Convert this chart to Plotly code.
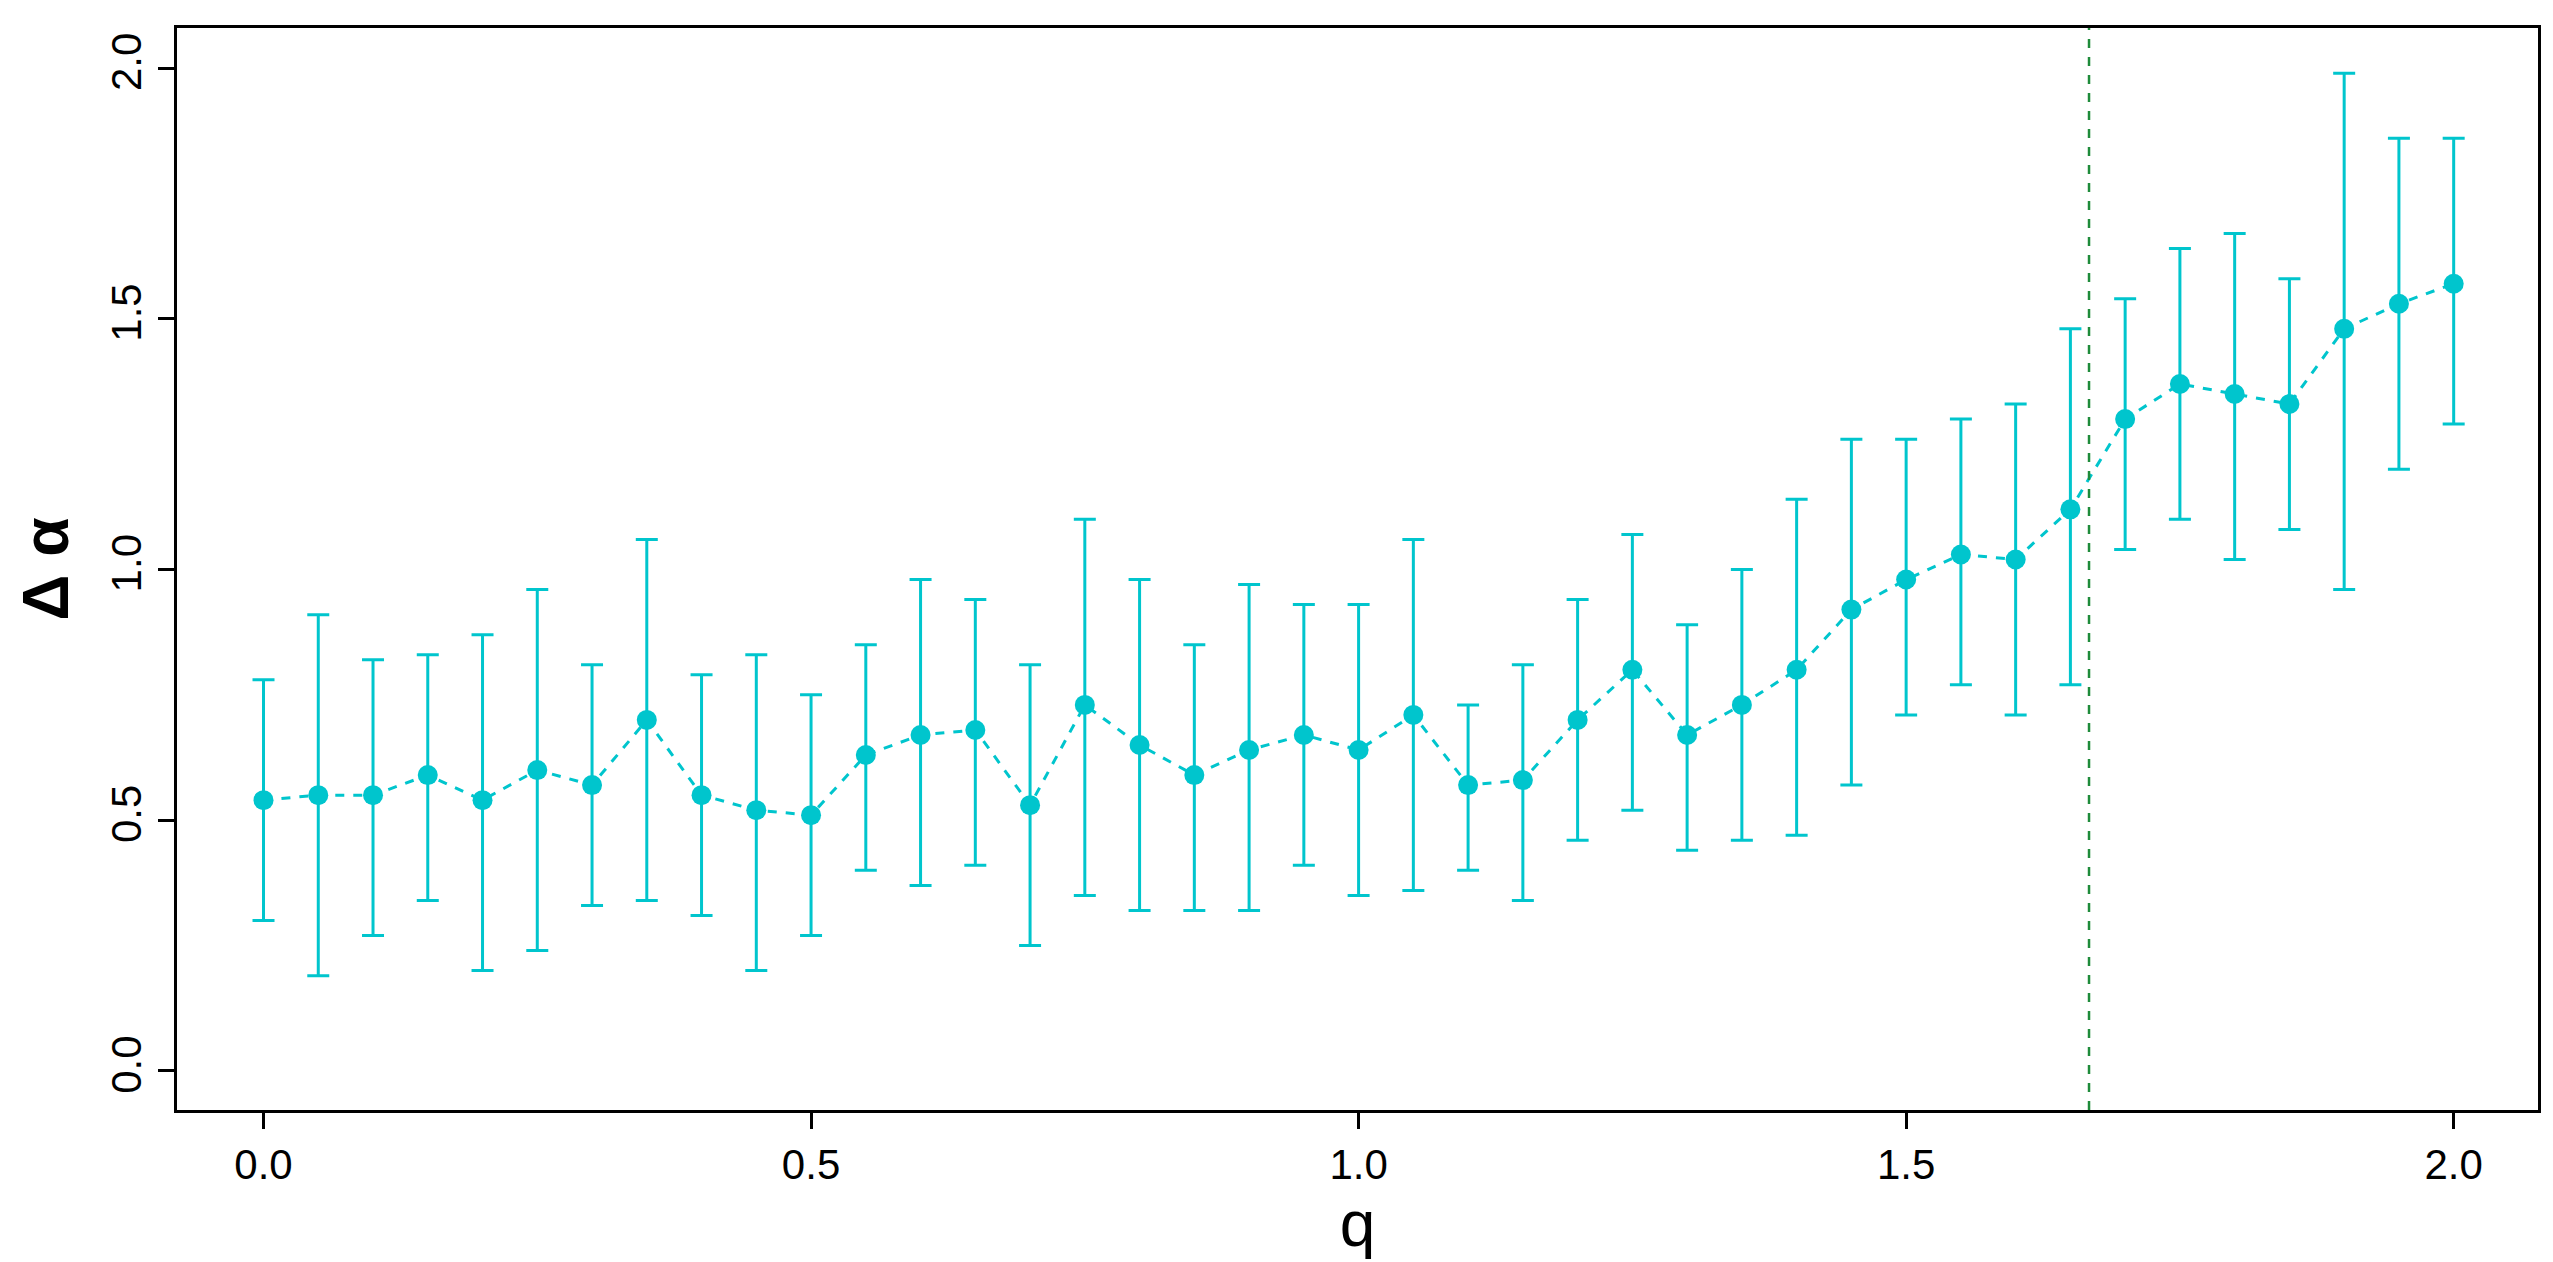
import plotly.graph_objects as go

q = [round(i*0.05, 2) for i in range(41)]
val = [0.54,0.55,0.55,0.59,0.54,0.60,0.57,0.70,0.55,0.52,0.51,0.63,0.67,0.68,0.53,0.73,0.65,0.59,0.64,0.67,
       0.64,0.71,0.57,0.58,0.70,0.80,0.67,0.73,0.80,0.92,0.98,1.03,1.02,1.12,1.30,1.37,1.35,1.33,1.48,1.53,1.57]
lo = [0.30,0.19,0.27,0.34,0.20,0.24,0.33,0.34,0.31,0.20,0.27,0.40,0.37,0.41,0.25,0.35,0.32,0.32,0.32,0.41,
      0.35,0.36,0.40,0.34,0.46,0.52,0.44,0.46,0.47,0.57,0.71,0.77,0.71,0.77,1.04,1.10,1.02,1.08,0.96,1.20,1.29]
hi = [0.78,0.91,0.82,0.83,0.87,0.96,0.81,1.06,0.79,0.83,0.75,0.85,0.98,0.94,0.81,1.10,0.98,0.85,0.97,0.93,
      0.93,1.06,0.73,0.81,0.94,1.07,0.89,1.00,1.14,1.26,1.26,1.30,1.33,1.48,1.54,1.64,1.67,1.58,1.99,1.86,1.86]
vline_q = 1.667
color = "#00C5CD"

fig = go.Figure(go.Scatter(
    x=q, y=val, mode="lines+markers",
    line=dict(color=color, width=3, dash="dash"),
    marker=dict(color=color, size=20),
    error_y=dict(type="data", symmetric=False,
                 array=[h - v for h, v in zip(hi, val)],
                 arrayminus=[v - l for v, l in zip(val, lo)],
                 color=color, thickness=3, width=11),
))
fig.add_vline(x=vline_q, line=dict(color="#1E8B3A", width=2.5, dash="dash"))
font = dict(family="Liberation Sans, Arial", size=42, color="black")
tfont = dict(family="Liberation Sans, Arial", size=64, color="black")
axis = dict(showgrid=False, zeroline=False, showline=True, linecolor="black", linewidth=3, mirror=True,
            ticks="outside", ticklen=16, tickwidth=3, tickcolor="black", tickfont=font)
fig.update_layout(
    width=2553, height=1262, plot_bgcolor="white", paper_bgcolor="white", showlegend=False,
    margin=dict(l=169, r=23, t=20, b=160),
    xaxis=dict(axis, range=[-0.079, 2.077], tickvals=[0, 0.5, 1, 1.5, 2], ticktext=["0.0","0.5","1.0","1.5","2.0"],
               title=dict(text="q", font=tfont, standoff=4)),
    yaxis=dict(axis, range=[-0.078, 2.08], tickvals=[0, 0.5, 1, 1.5, 2], ticktext=["0.0","0.5","1.0","1.5","2.0"],
               tickangle=-90,
               title=dict(text="<b>Δ α</b>", font=tfont, standoff=14)),
)
fig.write_html("out.html")
